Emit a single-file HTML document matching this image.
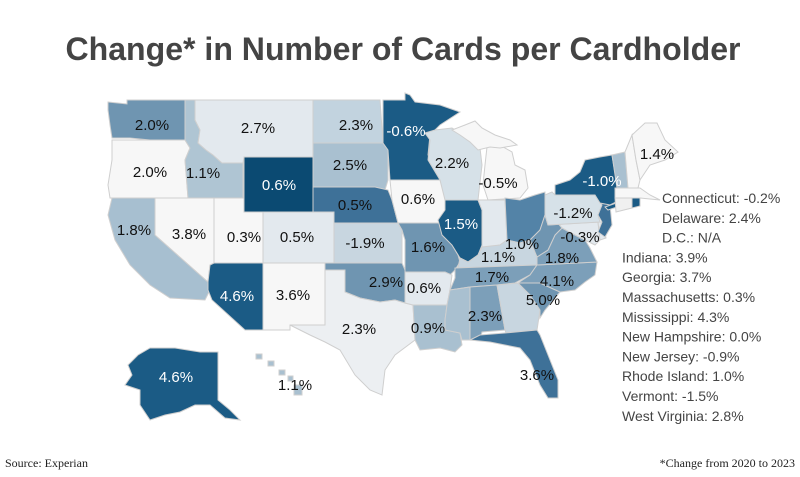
<!DOCTYPE html>
<html><head><meta charset="utf-8"><style>
html,body{margin:0;padding:0;background:#fff;}
svg{display:block;font-family:"Liberation Sans",sans-serif;}
</style></head><body>
<svg id="map" width="800" height="477" viewBox="0 0 800 477">
<text x="403" y="60" text-anchor="middle" font-size="32" font-weight="bold" fill="#444" textLength="675" lengthAdjust="spacingAndGlyphs">Change* in Number of Cards per Cardholder</text>
<g id="states"></g>
<g id="labels"></g>
<g id="legend"></g>
<text x="5" y="467" font-family="Liberation Serif, serif" font-size="12" fill="#222">Source: Experian</text>
<text x="795" y="467" text-anchor="end" font-family="Liberation Serif, serif" font-size="12" fill="#222">*Change from 2020 to 2023</text>
</svg>
<script>
const stateCodes = ["WA","OR","ID","MT","WY","ND","SD","NE","CA","NV","UT","CO","AZ","NM","KS","OK","TX","MN","IA","MO","AR","LA","WI","MI","IL","IN","OH","KY","TN","MS","AL","GA","FL","SC","NC","VA","WV","MD","DE","PA","NJ","NY","VT","NH","ME","MA","CT","RI","AK","HI"];
const stateValues = [2.0,2.0,1.1,2.7,0.6,2.3,2.5,0.5,1.8,3.8,0.3,0.5,4.6,3.6,-1.9,2.9,2.3,-0.6,0.6,1.6,0.6,0.9,2.2,-0.5,1.5,3.9,1.0,1.1,1.7,4.3,2.3,3.7,3.6,5.0,4.1,1.8,2.8,-0.3,2.4,-1.2,-0.9,-1.0,-1.5,0.0,1.4,0.3,-0.2,1.0,4.6,1.1];
const stateFills = ["#6f95b1","#f7f7f7","#afc5d3","#e3e9ee","#0b4a72","#c2d3df","#a9c0d0","#3e7198","#a7bfd0","#f7f7f7","#f7f7f7","#e3e9ee","#1b5b85","#f7f7f7","#c8d6e0","#6f95b1","#eceff2","#1b5b85","#f7f7f7","#6f95b1","#e3e9ee","#a9c0d0","#d6e1e8","#f7f7f7","#1b5b85","#e3e9ee","#5383a7","#c8d6e0","#7c9fb9","#a9c0d0","#7c9fb9","#c8d6e0","#3e7198","#6f95b1","#7c9fb9","#7c9fb9","#6f95b1","#e3e9ee","#e3e9ee","#d6e1e8","#3e7198","#1b5b85","#a9c0d0","#f7f7f7","#f7f7f7","#f7f7f7","#f0f0f0","#1b5b85","#1b5b85","#a9c0d0"];
const legendNames = ["Connecticut","Delaware","D.C.","Indiana","Georgia","Massachusetts","Mississippi","New Hampshire","New Jersey","Rhode Island","Vermont","West Virginia"];
const legendValues = ["-0.2%","2.4%","N/A","3.9%","3.7%","0.3%","4.3%","0.0%","-0.9%","1.0%","-1.5%","2.8%"];

const shapes = {
WA:"108,102 127,104 127,100 185,100 185,140 150,140 130,138 112,138 110,125 108,110",
OR:"112,140 150,140 185,140 190,148 185,160 188,198 110,198 108,185 112,160",
ID:"185,100 195,100 195,120 200,130 198,143 206,150 213,155 222,163 243,163 243,198 188,198 185,160 190,148 185,140",
MT:"195,100 313,100 313,157 244,157 243,163 222,163 213,155 206,150 198,143 200,130 195,120",
WY:"244,157 313,157 313,212 244,212",
ND:"313,100 380,100 383,143 313,143",
SD:"313,143 383,143 388,150 388,180 385,190 375,187 313,187",
NE:"313,187 375,187 388,190 392,200 398,223 334,223 334,212 313,212",
CA:"112,198 155,198 155,235 208,282 210,290 205,300 170,298 150,285 130,265 115,240 108,215",
NV:"155,198 214,198 214,265 210,265 208,282 155,235",
UT:"214,198 244,198 244,212 263,212 263,263 214,263",
CO:"263,212 334,212 334,263 263,263",
AZ:"214,263 263,263 263,330 245,330 212,300 208,290 208,282 210,265",
NM:"263,263 325,263 325,325 290,325 290,330 263,330",
KS:"334,223 398,223 402,230 402,263 334,263",
OK:"325,263 402,263 405,270 405,303 395,300 380,302 360,298 345,292 345,270 325,270",
TX:"325,270 345,270 345,292 360,298 380,302 395,300 405,303 413,305 415,340 395,355 385,370 382,395 370,390 355,375 340,350 325,342 310,335 290,325 325,325",
MN:"383,100 405,100 405,93 410,95 415,102 440,105 460,112 440,125 430,135 428,155 440,165 455,180 390,180 388,150 383,143",
IA:"390,180 455,180 458,190 452,205 448,215 445,223 398,223 392,200",
MO:"398,223 445,223 442,235 452,245 458,255 460,262 455,270 450,275 445,272 405,272 405,240 402,230",
AR:"405,272 445,272 452,275 450,290 447,305 413,305 405,303",
LA:"413,305 447,305 445,320 445,330 460,333 462,345 455,352 440,348 420,350 415,340",
WI:"425,133 435,130 452,128 460,133 470,140 480,148 482,165 478,200 445,200 440,180 428,160 430,140",
MI:"487,147 498,144 512,152 515,165 525,170 528,188 520,198 488,200 483,185 485,165",
MIUP:"452,130 465,125 475,121 482,128 495,135 510,140 517,145 500,148 490,147 478,150 470,142 460,135",
IL:"445,200 478,200 482,210 482,245 478,255 468,262 460,258 452,245 442,235 438,220 445,210",
IN:"478,200 505,200 507,240 500,245 490,247 482,247 482,210",
OH:"505,198 520,200 535,195 545,192 545,215 540,230 530,240 520,243 507,240",
KY:"460,258 468,262 478,255 482,247 500,245 507,240 520,243 530,240 540,250 537,265 458,268",
TN:"455,268 537,265 530,275 515,283 497,285 470,287 450,290 455,278",
MS:"450,290 470,287 470,340 462,340 460,333 445,330 445,320 447,305",
AL:"470,287 497,285 505,330 482,332 480,340 470,340",
GA:"497,285 518,283 530,295 540,310 537,330 506,333 505,330",
FL:"470,340 480,335 505,333 537,330 540,335 548,355 558,380 558,398 548,398 540,385 530,360 520,348 505,345 490,342",
SC:"518,283 540,283 560,292 545,310 540,318 540,310 530,295",
NC:"537,265 597,262 595,275 585,282 575,290 560,292 540,283 518,283 530,275",
VA:"537,257 548,250 555,235 562,228 575,235 585,240 590,248 597,262 537,265",
WV:"530,240 540,230 545,215 548,225 557,222 562,228 555,235 548,250 537,257",
MD:"548,225 598,222 600,240 595,245 585,240 575,235 562,228 557,222",
DE:"598,222 603,222 606,238 600,240",
PA:"545,195 552,192 555,195 595,195 602,205 598,215 600,222 548,225 545,215",
NJ:"598,200 610,205 612,225 605,237 598,232 602,222 598,215 602,205",
NY:"555,195 555,185 570,180 580,172 585,160 600,157 612,155 617,185 620,200 610,205 600,203 595,195",
NYLI:"605,207 625,200 623,205 608,210",
VT:"612,155 625,152 628,188 617,188",
NH:"625,152 632,135 636,160 640,180 638,188 628,188",
ME:"632,135 645,123 657,123 665,140 678,152 665,160 650,165 640,180 636,160",
MA:"615,188 640,188 650,195 660,200 640,198 615,198",
CT:"615,198 632,198 632,208 616,212",
RI:"632,198 640,198 640,206 632,208",
AK:"150,348 175,348 200,352 218,352 218,400 230,410 240,420 225,418 210,405 195,405 180,412 165,415 150,420 140,405 140,390 125,385 132,375 128,365 138,355",
HI:"256,354 262,354 262,359 256,359 M268,361 274,361 274,366 268,366 M279,370 285,370 285,375 279,375 M288,376 293,376 293,381 288,381 M294,385 302,385 302,395 294,395"
};
const labelPos = {WA:[152,125],OR:[150,172],ID:[203,173],MT:[258,128],WY:[279,185],ND:[356,125],SD:[350,165],NE:[355,205],CA:[134,230],NV:[189,234],UT:[244,237],CO:[297,237],KS:[365,243],AZ:[237,296],NM:[293,295],OK:[386,282],TX:[359,329],AK:[176,377],HI:[295,385],MN:[406,131],WI:[452,163],MI:[498,183],IA:[418,199],IL:[461,224],MO:[428,247],AR:[424,288],LA:[428,328],AL:[485,316],TN:[492,277],KY:[498,257],OH:[522,244],VA:[562,258],NC:[557,281],SC:[543,300],FL:[537,375],PA:[573,213],MD:[580,237],NY:[602,181],ME:[657,154]};
const darkLabel = {WY:1,AZ:1,AK:1,MN:1,IL:1,NY:1};

const NS="http://www.w3.org/2000/svg";
const gS=document.getElementById("states"), gL=document.getElementById("labels"), gG=document.getElementById("legend");
function fmt(v){return v.toFixed(1)+"%";}
function addPoly(code, pts, fill){
  const parts = pts.split(" M");
  parts.forEach(function(p){
    const el=document.createElementNS(NS,"polygon");
    el.setAttribute("points",p);
    el.setAttribute("fill",fill);
    el.setAttribute("stroke","#cfcfcf");
    el.setAttribute("stroke-width","1");
    
    
    gS.appendChild(el);
  });
}
stateCodes.forEach(function(c,i){
  addPoly(c, shapes[c], stateFills[i]);
  if(c==="MI") addPoly("MI-up", shapes.MIUP, stateFills[i]);
  if(c==="NY") addPoly("NY-li", shapes.NYLI, stateFills[i]);
  if(labelPos[c]){
    const t=document.createElementNS(NS,"text");
    t.setAttribute("x",labelPos[c][0]);
    t.setAttribute("y",labelPos[c][1]+5);
    t.setAttribute("text-anchor","middle");
    t.setAttribute("font-size","15");
    t.setAttribute("fill",darkLabel[c]?"#fff":"#111");
    t.textContent=fmt(stateValues[i]);
    
    
    gL.appendChild(t);
  }
});
legendNames.forEach(function(n,i){
  const t=document.createElementNS(NS,"text");
  t.setAttribute("x", i<3?662:622);
  t.setAttribute("y", 203+i*19.8);
  t.setAttribute("font-size","14");
  t.setAttribute("fill","#444");
  t.textContent=n+": "+legendValues[i];
  
  
  gG.appendChild(t);
});
</script>
</body></html>
